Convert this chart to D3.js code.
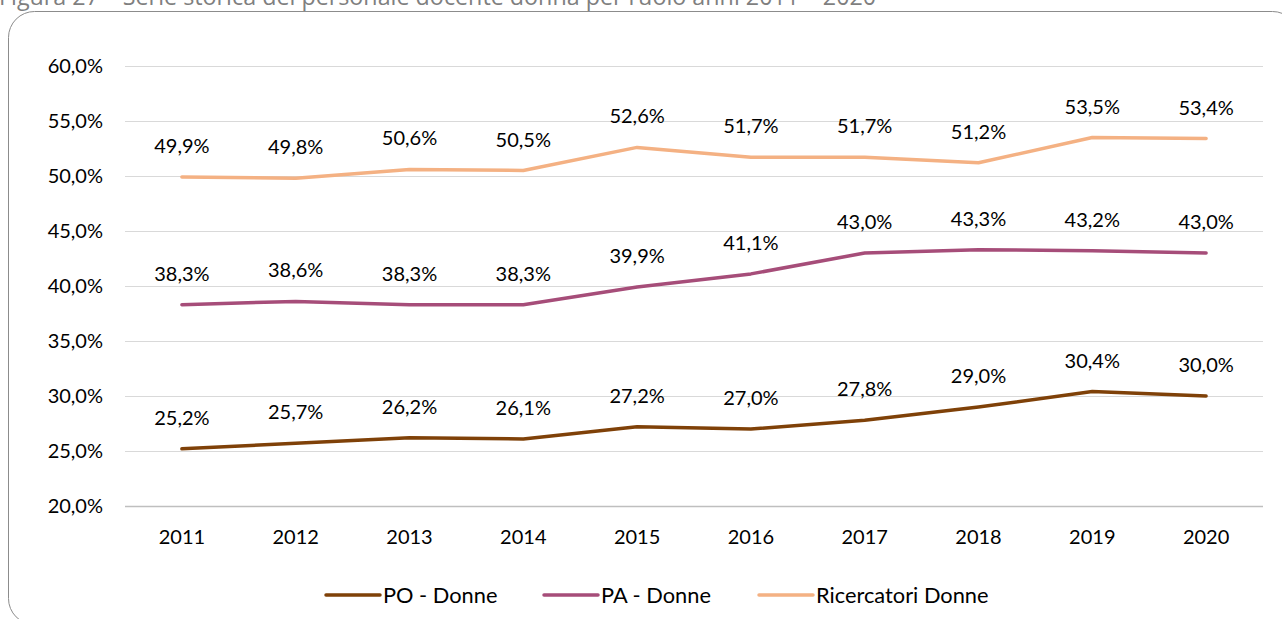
<!DOCTYPE html>
<html>
<head>
<meta charset="utf-8">
<script src="https://cdn.jsdelivr.net/npm/d3@7"></script>
<style>
  body { margin: 0; background: #fff; overflow: hidden; }
  svg { display: block; }
</style>
</head>
<body>
<div id="chart"></div>
<script>
const years = ["2011", "2012", "2013", "2014", "2015", "2016", "2017", "2018", "2019", "2020"];
const poDonne = [25.2, 25.7, 26.2, 26.1, 27.2, 27.0, 27.8, 29.0, 30.4, 30.0];
const paDonne = [38.3, 38.6, 38.3, 38.3, 39.9, 41.1, 43.0, 43.3, 43.2, 43.0];
const ricDonne = [49.9, 49.8, 50.6, 50.5, 52.6, 51.7, 51.7, 51.2, 53.5, 53.4];
const yTicks = [20, 25, 30, 35, 40, 45, 50, 55, 60];
const seriesNames = ["PO - Donne", "PA - Donne", "Ricercatori Donne"];

const series = [
  { name: seriesNames[0], values: poDonne, color: "#7f4108" },
  { name: seriesNames[1], values: paDonne, color: "#a64d79" },
  { name: seriesNames[2], values: ricDonne, color: "#f4b183" }
];

const width = 1282, height = 619;
const margin = { top: 66, right: 19, bottom: 113, left: 125 };
const innerW = width - margin.left - margin.right;
const innerH = height - margin.top - margin.bottom;
const font = "Lato, 'Open Sans', sans-serif";

const fmt = v => d3.format(".1f")(v).replace(".", ",") + "%";

const svg = d3.select("#chart").append("svg")
  .attr("width", width)
  .attr("height", height);

// title (cut off at the top in the reference)
svg.append("text")
  .attr("x", -1)
  .attr("y", 5)
  .attr("font-family", "'Open Sans', sans-serif")
  .attr("font-size", 23.3)
  .attr("fill", "#7f7f7f")
  .text("Figura 27 – Serie storica del personale docente donna per ruolo anni 2011 – 2020");

// chart frame
svg.append("rect")
  .attr("x", 8.5)
  .attr("y", 11.5)
  .attr("width", 1290)
  .attr("height", 613)
  .attr("rx", 26)
  .attr("fill", "none")
  .attr("stroke", "#8c8c8c")
  .attr("stroke-width", 1);

const g = svg.append("g")
  .attr("transform", `translate(${margin.left},${margin.top})`);

const x = d3.scaleBand()
  .domain(years)
  .range([0, innerW]);

const y = d3.scaleLinear()
  .domain([20, 60])
  .range([innerH, 0]);

// gridlines
g.append("g")
  .selectAll("line")
  .data(yTicks)
  .join("line")
  .attr("x1", 0)
  .attr("x2", innerW)
  .attr("y1", d => Math.round(y(d)) + 0.5)
  .attr("y2", d => Math.round(y(d)) + 0.5)
  .attr("stroke", d => d === 20 ? "#bfbfbf" : "#d9d9d9")
  .attr("stroke-width", d => d === 20 ? 1.5 : 1);

// y axis
const yAxis = g.append("g")
  .call(d3.axisLeft(y).tickValues(yTicks).tickSize(0).tickPadding(22).tickFormat(fmt));
yAxis.select(".domain").remove();
yAxis.selectAll("text")
  .attr("font-family", font)
  .attr("font-size", 20)
  .attr("fill", "#000");

// x axis
const xAxis = g.append("g")
  .attr("transform", `translate(0,${innerH})`)
  .call(d3.axisBottom(x).tickSize(0).tickPadding(24));
xAxis.select(".domain").remove();
xAxis.selectAll("text")
  .attr("font-family", font)
  .attr("font-size", 20)
  .attr("fill", "#000");

const line = d3.line()
  .x((d, i) => x(years[i]) + x.bandwidth() / 2)
  .y(d => y(d));

series.forEach(s => {
  g.append("path")
    .datum(s.values)
    .attr("fill", "none")
    .attr("stroke", s.color)
    .attr("stroke-width", 3.5)
    .attr("stroke-linecap", "round")
    .attr("stroke-linejoin", "round")
    .attr("d", line);

  g.append("g")
    .selectAll("text")
    .data(s.values)
    .join("text")
    .attr("x", (d, i) => x(years[i]) + x.bandwidth() / 2)
    .attr("y", d => y(d) - 31)
    .attr("dy", "0.35em")
    .attr("text-anchor", "middle")
    .attr("font-family", font)
    .attr("font-size", 20)
    .attr("fill", "#000")
    .text(fmt);
});

// legend
const legendX = [325, 543, 758];
const legend = svg.append("g")
  .attr("transform", "translate(0,595)");

series.forEach((s, i) => {
  const item = legend.append("g")
    .attr("transform", `translate(${legendX[i]},0)`);
  item.append("line")
    .attr("x1", 1)
    .attr("x2", 55)
    .attr("stroke", s.color)
    .attr("stroke-width", 3.5)
    .attr("stroke-linecap", "round");
  item.append("text")
    .attr("x", 58)
    .attr("dy", "0.35em")
    .attr("font-family", font)
    .attr("font-size", 21.8)
    .attr("fill", "#000")
    .text(s.name);
});
</script>
</body>
</html>
